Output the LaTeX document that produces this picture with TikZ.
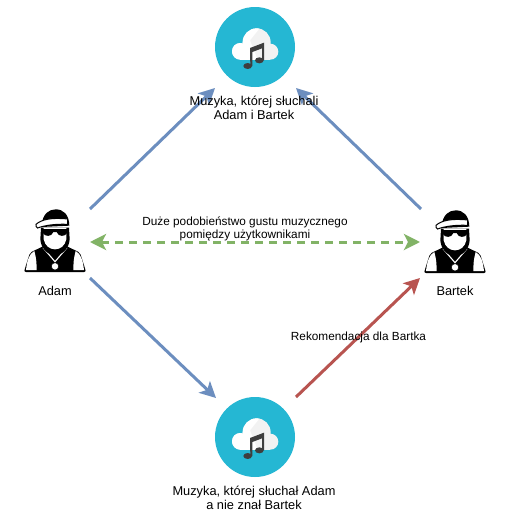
\documentclass[tikz,border=0pt]{standalone}
\usepackage{fontspec}
\setmainfont{Liberation Sans}
\usetikzlibrary{arrows.meta}
\definecolor{cblue}{HTML}{6C8EBF}
\definecolor{cgreen}{HTML}{82B366}
\definecolor{cred}{HTML}{B85450}
\definecolor{cteal}{HTML}{25B7D3}
\definecolor{cnote}{HTML}{3E3E3E}
\tikzset{
  tipstyle/.tip={Stealth[length=16pt,width=16pt,inset=4pt]},
  conn/.style={line width=3pt,-tipstyle},
  lab/.style={font=\fontsize{11.8}{13}\selectfont,align=center,inner sep=0pt,text=black},
  labbig/.style={lab,font=\fontsize{12.8}{14.5}\selectfont},
  anchorpt/.style={inner sep=0pt,minimum size=0pt},
}
\newcommand{\musicicon}[2]{%
  \node[circle,fill=cteal,minimum size=80pt,inner sep=0pt] (#2) at (#1) {};
  \begin{scope}[shift={(#1)},x=0.3333pt,y=-0.3333pt]
    \begin{scope}
      \fill[white!95!black] (-44,13) circle[radius=25];
      \fill[white!95!black] (5,-14) circle[radius=42];
      \fill[white!95!black] (46,14) circle[radius=24];
      \fill[white!95!black] (-44,5) rectangle (46,38);
      \clip (-80,-70) -- (25,-70) -- (-15,-20) -- (10,45) -- (-80,45) -- cycle;
      \fill[white] (-44,13) circle[radius=25];
      \fill[white] (5,-14) circle[radius=42];
      \fill[white] (-44,5) rectangle (46,38);
    \end{scope}
    \fill[cnote] (-22,57) ellipse[x radius=13,y radius=9];
    \fill[cnote] (13,40) ellipse[x radius=13,y radius=9];
    \fill[cnote] (-15,3) -- (27,-13) -- (27,40) -- (21,40) -- (21,4) -- (-8,15) -- (-8,57) -- (-14,57) -- cycle;
  \end{scope}
}
\newcommand{\personicon}[2]{%
  \node[anchorpt] (#2) at (#1) {};
  \begin{scope}[shift={(#1)},x=0.3333pt,y=-0.3333pt]
    \fill[black,rounded corners=2pt] (-93,93) -- (-90,82) -- (-75,35) -- (-32,14) -- (32,14) -- (75,35) -- (90,82) -- (93,93) -- cycle;
    \fill[white] (-87,87) .. controls (-84,60) and (-78,38) .. (-62,30) .. controls (-56,50) and (-55,70) .. (-55,87) -- cycle;
    \fill[white] (87,87) .. controls (84,60) and (78,38) .. (62,30) .. controls (56,50) and (55,70) .. (55,87) -- cycle;
    \draw[white,line width=1.1pt] (-36,20) -- (0,62) -- (36,20);
    \fill[white,draw=black,line width=0.5pt] (0,76) circle[radius=11];
    \fill[black] (-42,-40) -- (-44,-5) .. controls (-42,25) and (-20,42) .. (0,42) .. controls (20,42) and (42,25) .. (44,-5) -- (42,-40) -- cycle;
    \fill[white] (-34,-40) -- (-34,-5) .. controls (-30,15) and (-15,25) .. (0,25) .. controls (15,25) and (30,15) .. (34,-5) -- (34,-40) -- cycle;
    \fill[black] (-41,-36) -- (41,-36) -- (36,-24) .. controls (30,-12) and (10,-12) .. (5,-27) -- (-5,-27) .. controls (-10,-12) and (-30,-12) .. (-36,-24) -- cycle;
    \fill[black] (-40,-50) .. controls (-36,-82) and (-18,-95) .. (2,-95) .. controls (25,-95) and (42,-80) .. (43,-46) -- (-40,-42) -- cycle;
    \fill[white,draw=black,line width=1pt] (-57,-50) .. controls (-40,-65) and (-10,-71) .. (38,-66) -- (38,-50) .. controls (0,-52) and (-35,-46) .. (-52,-39) .. controls (-57,-41) and (-58,-46) .. (-57,-50) -- cycle;
  \end{scope}
}
\begin{document}
\begin{tikzpicture}[x=1pt,y=-1pt]
  \useasboundingbox (0,0) rectangle (510,517);
  \fill[white] (0,0) rectangle (510,517);
  \musicicon{255,47}{top}
  \musicicon{255,437}{bottom}
  \personicon{55,241}{adam}
  \personicon{455,242}{bartek}
  \coordinate (adamNE) at (90,209);
  \coordinate (topSW) at (215,88);
  \coordinate (bartekNW) at (421,209);
  \coordinate (topSE) at (296,88);
  \coordinate (adamE) at (90,242);
  \coordinate (bartekW) at (420,242);
  \coordinate (adamSE) at (90,278);
  \coordinate (bottomNW) at (216,398);
  \coordinate (bottomNE) at (296,397);
  \coordinate (bartekSW) at (420,278);
  \draw[conn,cblue] (adamNE) -- (topSW);
  \draw[conn,cblue] (bartekNW) -- (topSE);
  \draw[conn,cblue] (adamSE) -- (bottomNW);
  \draw[conn,cred] (bottomNE) -- (bartekSW);
  \draw[cgreen,line width=3pt,dash pattern=on 8pt off 6pt,tipstyle-tipstyle] (adamE) -- (bartekW);
  \node[labbig] (ltop) at (254,108) {Muzyka, której słuchali\\Adam i Bartek};
  \node[labbig] (lbottom) at (254,498) {Muzyka, której słuchał Adam\\a nie znał Bartek};
  \node[lab] (lmid) at (245,229) {Duże podobieństwo gustu muzycznego\\pomiędzy użytkownikami};
  \node[lab] (lrec) at (358.5,337.5) {Rekomendacja dla Bartka};
  \node[labbig] (ladam) at (55,291) {Adam};
  \node[labbig] (lbartek) at (455,291) {Bartek};
\end{tikzpicture}
\end{document}
